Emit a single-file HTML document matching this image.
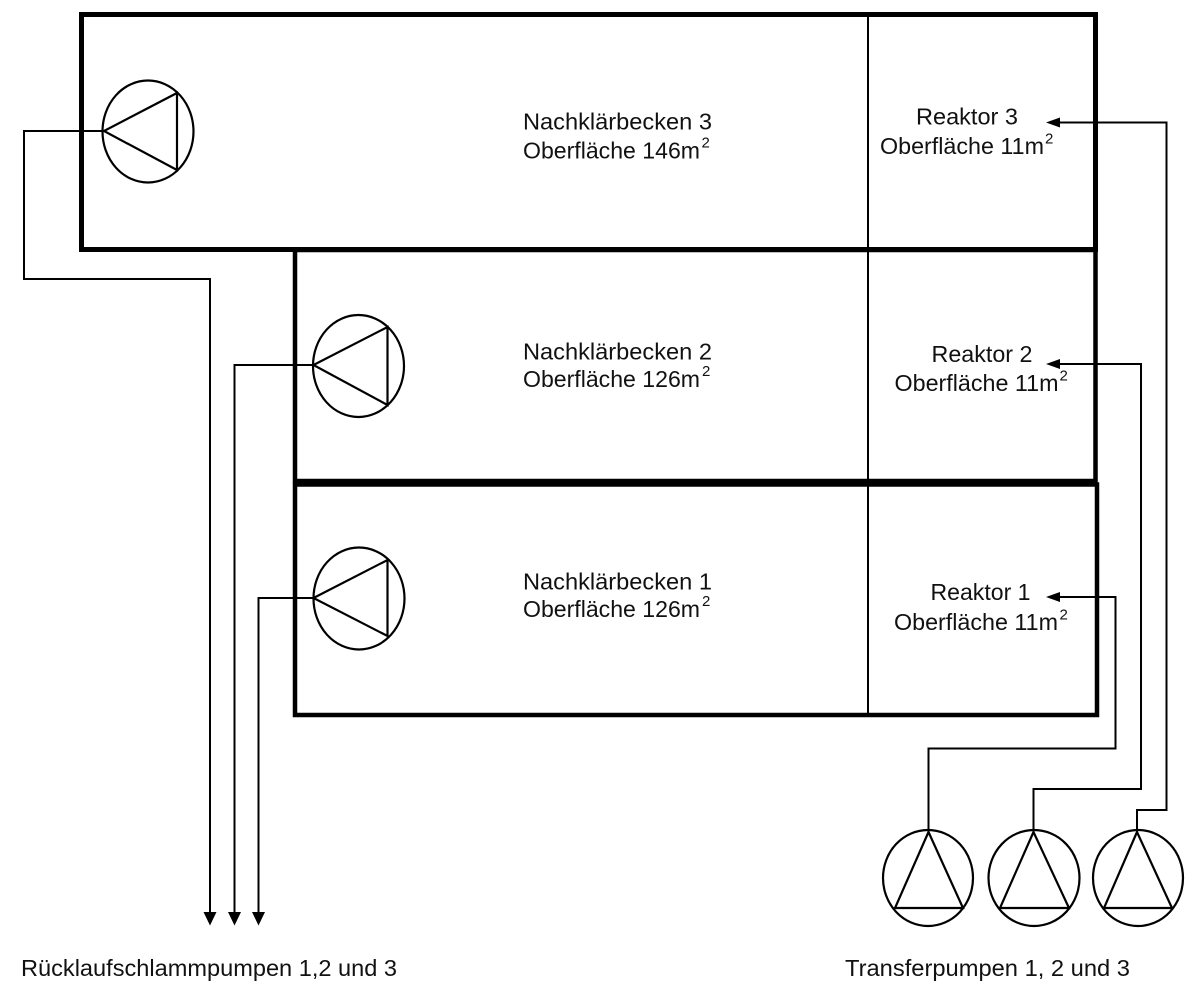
<!DOCTYPE html>
<html>
<head>
<meta charset="utf-8">
<style>
  html,body{margin:0;padding:0;background:#fff;}
  svg{display:block;}
  text{font-family:"Liberation Sans",Arial,sans-serif;fill:#111;}
</style>
</head>
<body>
<svg width="1200" height="998" viewBox="0 0 1200 998" xmlns="http://www.w3.org/2000/svg">
  <rect x="0" y="0" width="1200" height="998" fill="#fff"/>

  <!-- Tanks -->
  <rect x="81.5" y="14.5" width="1014" height="235" fill="none" stroke="#000" stroke-width="5"/>
  <rect x="295" y="250" width="800.5" height="231" fill="none" stroke="#000" stroke-width="4.5"/>
  <rect x="295" y="484.5" width="802" height="230.5" fill="none" stroke="#000" stroke-width="4.5"/>
  <!-- Dividers -->
  <line x1="868" y1="16" x2="868" y2="714" stroke="#000" stroke-width="2"/>

  <g fill="none" stroke="#000" stroke-width="2.2">
    <!-- Pump in tank 3 -->
    <ellipse cx="148" cy="131.5" rx="45.5" ry="51"/>
    <polygon points="104,131 177,93 177,170"/>
    <!-- Pump in tank 2 -->
    <ellipse cx="358.5" cy="366" rx="45.5" ry="51"/>
    <polygon points="313.5,365 387.5,327 387.5,405"/>
    <!-- Pump in tank 1 -->
    <ellipse cx="359" cy="598.5" rx="45.5" ry="51"/>
    <polygon points="313.5,598 387.5,560 387.5,636"/>

    <!-- Transfer pumps -->
    <ellipse cx="928" cy="878" rx="45" ry="48"/>
    <polygon points="928.5,832 895,908 963,908"/>
    <ellipse cx="1034" cy="878" rx="45.5" ry="48"/>
    <polygon points="1033.5,832 1000,908 1069,908"/>
    <ellipse cx="1138" cy="878" rx="45" ry="48"/>
    <polygon points="1137,832 1104,908 1172,908"/>
  </g>

  <!-- Connectors -->
  <g fill="none" stroke="#000" stroke-width="2">
    <polyline points="104,131 24,131 24,279 210,279 210,914"/>
    <polyline points="313.5,365 234.5,365 234.5,914"/>
    <polyline points="313.5,598 258.5,598 258.5,914"/>
    <polyline points="928.5,832 928.5,748.5 1115.5,748.5 1115.5,597 1058,597"/>
    <polyline points="1033.5,832 1033.5,789 1141,789 1141,364 1058,364"/>
    <polyline points="1137,832 1137,810 1166.5,810 1166.5,122.5 1058,122.5"/>
  </g>

  <!-- Arrowheads -->
  <g fill="#000">
    <polygon points="203.5,912 216.5,912 210,925.5"/>
    <polygon points="228,912 241,912 234.5,925.5"/>
    <polygon points="252,912 265,912 258.5,925.5"/>
    <polygon points="1046,597 1060,592 1060,602"/>
    <polygon points="1046,364 1060,359 1060,369"/>
    <polygon points="1046,122.5 1060,117.5 1060,127.5"/>
  </g>

  <!-- Labels -->
  <g font-size="23">
    <text x="523" y="129.5" textLength="189" lengthAdjust="spacingAndGlyphs">Nachklärbecken 3</text>
    <text x="523" y="158.5" textLength="177" lengthAdjust="spacingAndGlyphs">Oberfläche 146m</text>

    <text x="523" y="359.5" textLength="189" lengthAdjust="spacingAndGlyphs">Nachklärbecken 2</text>
    <text x="523" y="387" textLength="177" lengthAdjust="spacingAndGlyphs">Oberfläche 126m</text>

    <text x="523" y="589.5" textLength="189" lengthAdjust="spacingAndGlyphs">Nachklärbecken 1</text>
    <text x="523" y="617" textLength="177" lengthAdjust="spacingAndGlyphs">Oberfläche 126m</text>

    <text x="916" y="124.5" textLength="102" lengthAdjust="spacingAndGlyphs">Reaktor 3</text>
    <text x="880" y="154" textLength="164" lengthAdjust="spacingAndGlyphs">Oberfläche 11m</text>

    <text x="931.5" y="362" textLength="101" lengthAdjust="spacingAndGlyphs">Reaktor 2</text>
    <text x="894.5" y="391" textLength="164" lengthAdjust="spacingAndGlyphs">Oberfläche 11m</text>

    <text x="930.5" y="600" textLength="100" lengthAdjust="spacingAndGlyphs">Reaktor 1</text>
    <text x="894" y="630" textLength="164" lengthAdjust="spacingAndGlyphs">Oberfläche 11m</text>

    <text x="21" y="976" textLength="376" lengthAdjust="spacingAndGlyphs">Rücklaufschlammpumpen 1,2 und 3</text>
    <text x="845" y="976" textLength="285" lengthAdjust="spacingAndGlyphs">Transferpumpen 1, 2 und 3</text>
  </g>

  <!-- Superscripts -->
  <g font-size="15">
    <text x="701.5" y="147.5">2</text>
    <text x="702" y="376">2</text>
    <text x="702" y="606">2</text>
    <text x="1045" y="143.5">2</text>
    <text x="1059.5" y="380.5">2</text>
    <text x="1059.5" y="619.5">2</text>
  </g>
</svg>
</body>
</html>
